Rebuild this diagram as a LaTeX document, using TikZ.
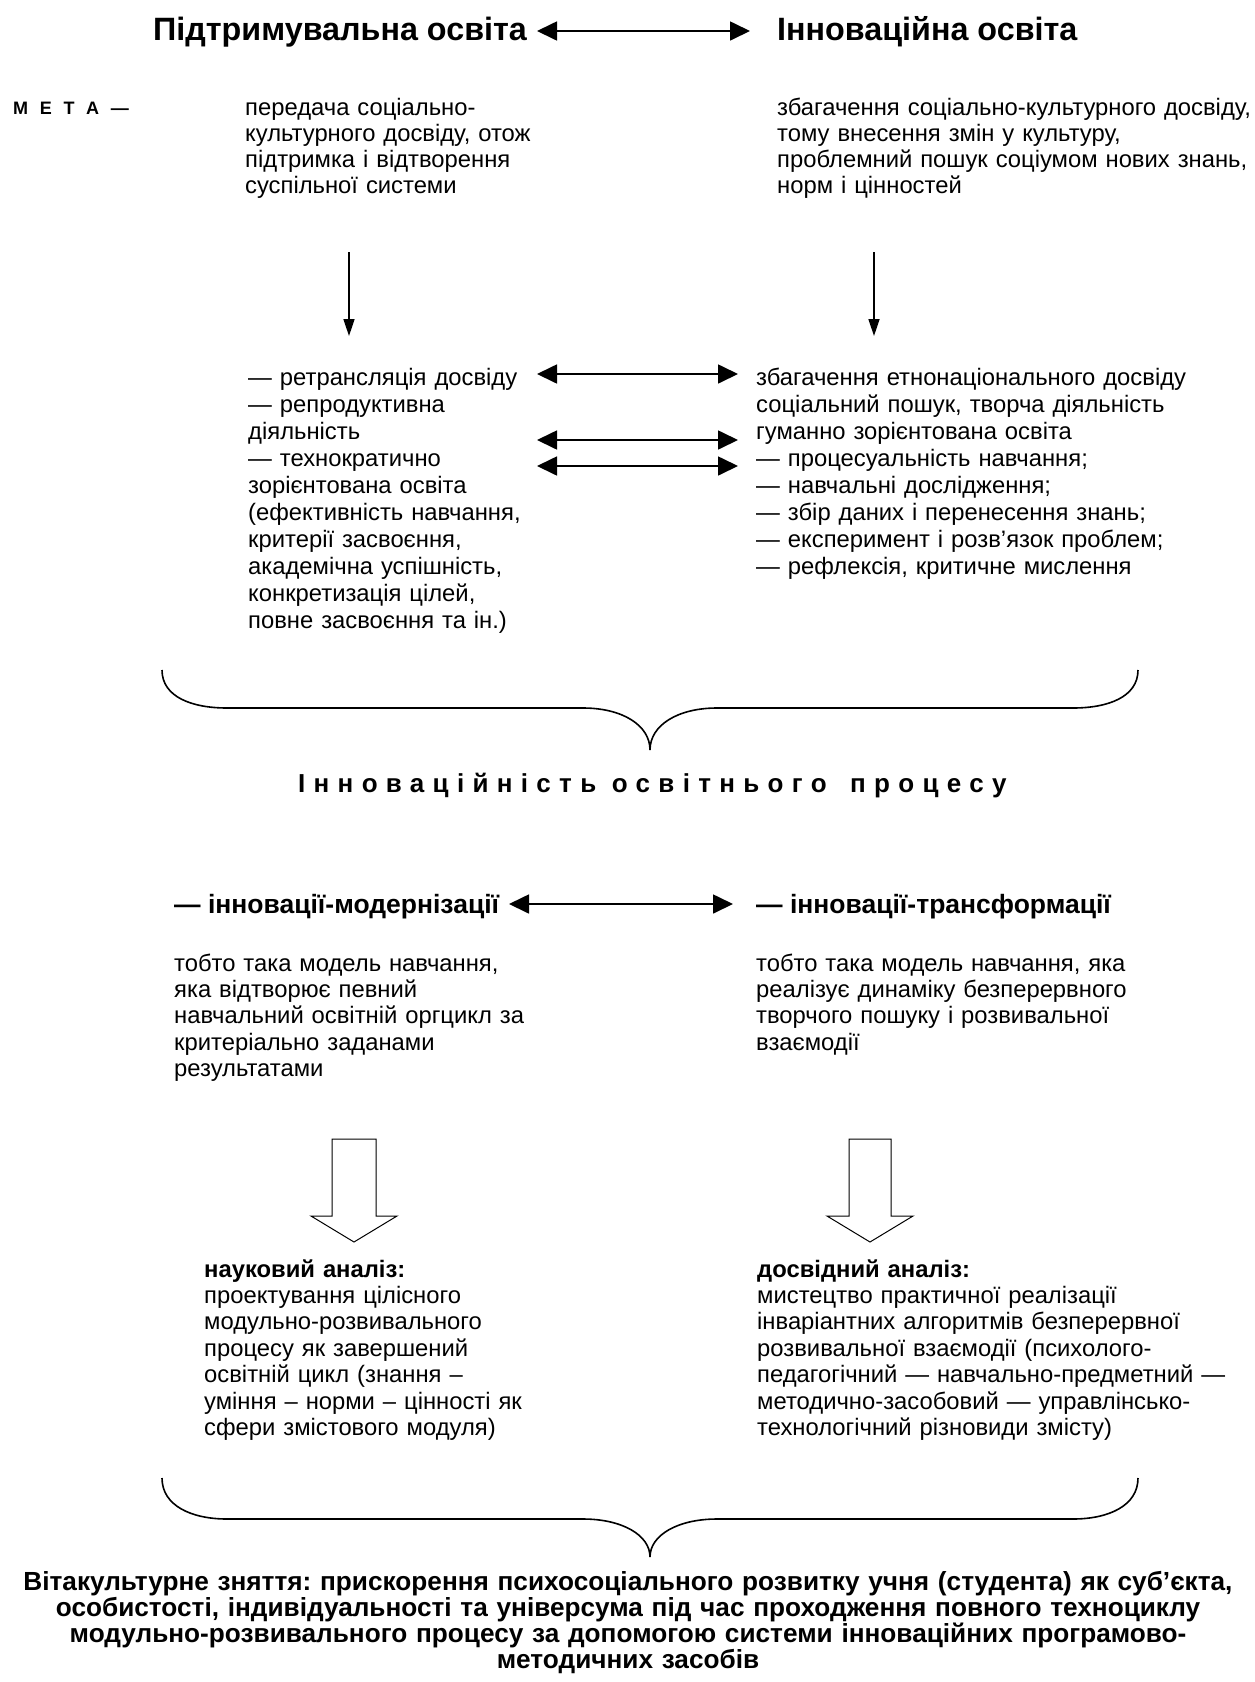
\documentclass[tikz,border=0pt]{standalone}
\usepackage{fontspec}
\setmainfont{Liberation Sans}
\usetikzlibrary{arrows.meta}
\frenchspacing
\tikzset{
  body/.style={anchor=base west, inner sep=0pt, text width=620pt, align=left, font=\fontsize{23.8}{26.2}\selectfont},
  bodymid/.style={body, font=\fontsize{23.8}{27.0}\selectfont},
  bodylow/.style={body, font=\fontsize{23.8}{26.4}\selectfont},
  headtitle/.style={anchor=base west, inner sep=0pt, font=\fontsize{32.3}{40}\selectfont\bfseries},
  subhead/.style={anchor=base west, inner sep=0pt, font=\fontsize{26.5}{30}\selectfont\bfseries},
  dblarrow/.style={line width=1.7pt, {Triangle[length=20pt,width=19pt]}-{Triangle[length=20pt,width=19pt]}},
  downarrow/.style={line width=1.7pt, -{Triangle[length=17pt,width=11pt]}},
  bracepath/.style={line width=1.6pt},
  hollowarrow/.style={line width=1pt, fill=white, line join=miter},
}
\begin{document}
\begin{tikzpicture}[x=1pt,y=-1pt]
\useasboundingbox (0,0) rectangle (1255,1682);

% titles
\node[headtitle] (t1) at (153,40) {Підтримувальна освіта};
\node[headtitle] (t2) at (777,40) {Інноваційна освіта};
\coordinate (a1l) at (537,31);
\coordinate (a1r) at (750,31);
\draw[dblarrow] (a1l) -- (a1r);

% goal
\node[anchor=base west, inner sep=0pt, font=\fontsize{18}{22}\selectfont\bfseries\addfontfeature{LetterSpace=37}] (meta) at (13,114) {М Е Т А —};
\node[body] (goalL) at (245,115) {передача соціально-\\культурного досвіду, отож\\підтримка і відтворення\\суспільної системи};
\node[body] (goalR) at (777,115) {збагачення соціально-культурного досвіду,\\тому внесення змін у культуру,\\проблемний пошук соціумом нових знань,\\норм і цінностей};

\coordinate (d1s) at (349,252);
\coordinate (d1e) at (349,336);
\coordinate (d2s) at (874,252);
\coordinate (d2e) at (874,336);
\draw[downarrow] (d1s) -- (d1e);
\draw[downarrow] (d2s) -- (d2e);

% middle
\node[bodymid] (midL) at (248,385) {— ретрансляція досвіду\\— репродуктивна\\діяльність\\— технократично\\зорієнтована освіта\\(ефективність навчання,\\критерії засвоєння,\\академічна успішність,\\конкретизація цілей,\\повне засвоєння та ін.)};
\node[bodymid] (midR) at (756,385) {збагачення етнонаціонального досвіду\\соціальний пошук, творча діяльність\\гуманно зорієнтована освіта\\— процесуальність навчання;\\— навчальні дослідження;\\— збір даних і перенесення знань;\\— експеримент і розв’язок проблем;\\— рефлексія, критичне мислення};

\coordinate (m1l) at (537,374); \coordinate (m1r) at (738,374);
\coordinate (m2l) at (537,440); \coordinate (m2r) at (738,440);
\coordinate (m3l) at (537,466); \coordinate (m3r) at (738,466);
\draw[dblarrow] (m1l) -- (m1r);
\draw[dblarrow] (m2l) -- (m2r);
\draw[dblarrow] (m3l) -- (m3r);

% brace 1
\draw[bracepath] (162,670) .. controls (162,697) and (192,708) .. (227,708) -- (583,708)
  .. controls (622,708) and (650,725) .. (650,750)
  .. controls (650,725) and (678,708) .. (717,708) -- (1073,708)
  .. controls (1108,708) and (1138,697) .. (1138,670);

\node[anchor=base west, inner sep=0pt, font=\fontsize{26}{30}\selectfont\bfseries\addfontfeature{LetterSpace=32}] (innov) at (298,792) {Інноваційність освітнього\hspace{8pt} процесу};

% innovations
\node[subhead] (subL) at (174,913) {— інновації-модернізації};
\node[subhead] (subR) at (756,913) {— інновації-трансформації};
\coordinate (s1l) at (509,904); \coordinate (s1r) at (733,904);
\draw[dblarrow] (s1l) -- (s1r);

\node[bodylow] (modelL) at (174,971) {тобто така модель навчання,\\яка відтворює певний\\навчальний освітній оргцикл за\\критеріально заданами\\результатами};
\node[bodylow] (modelR) at (756,971) {тобто така модель навчання, яка\\реалізує динаміку безперервного\\творчого пошуку і розвивальної\\взаємодії};

% hollow arrows
\draw[hollowarrow] (332,1139) -- (376,1139) -- (376,1216) -- (397,1216) -- (354,1242) -- (311,1216) -- (332,1216) -- cycle;
\draw[hollowarrow] (849,1139) -- (891,1139) -- (891,1216) -- (913,1216) -- (870,1242) -- (827,1216) -- (849,1216) -- cycle;

% analyses
\node[bodylow] (anL) at (204,1277) {\textbf{науковий аналіз:}\\проектування цілісного\\модульно-розвивального\\процесу як завершений\\освітній цикл (знання –\\уміння – норми – цінності як\\сфери змістового модуля)};
\node[bodylow] (anR) at (757,1277) {\textbf{досвідний аналіз:}\\мистецтво практичної реалізації\\інваріантних алгоритмів безперервної\\розвивальної взаємодії (психолого-\\педагогічний — навчально-предметний —\\методично-засобовий — управлінсько-\\технологічний різновиди змісту)};

% brace 2
\draw[bracepath] (162,1478) .. controls (162,1506) and (192,1519) .. (227,1519) -- (583,1519)
  .. controls (622,1519) and (650,1535) .. (650,1557)
  .. controls (650,1535) and (678,1519) .. (717,1519) -- (1073,1519)
  .. controls (1108,1519) and (1138,1506) .. (1138,1478);

\node[anchor=base, inner sep=0pt, text width=1400pt, align=center, font=\fontsize{26.2}{26}\selectfont\bfseries] (final) at (628,1590) {Вітакультурне зняття: прискорення психосоціального розвитку учня (студента) як суб’єкта,\\особистості, індивідуальності та універсума під час проходження повного техноциклу\\модульно-розвивального процесу за допомогою системи інноваційних програмово-\\методичних засобів};
\end{tikzpicture}
\end{document}
